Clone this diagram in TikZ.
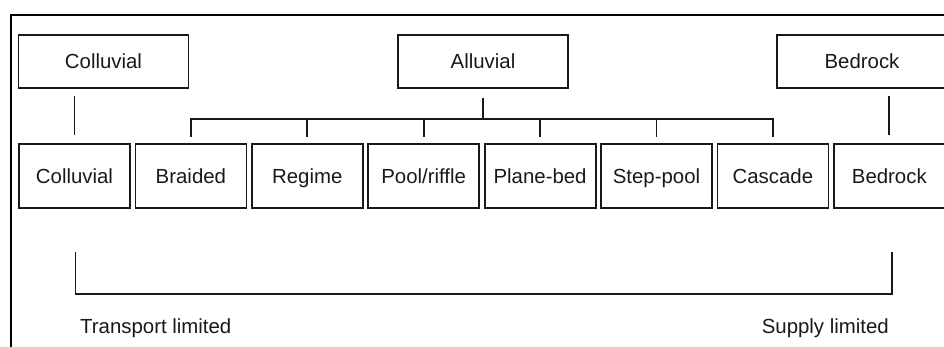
\documentclass[tikz,border=0pt]{standalone}
\usepackage{fontspec}
\setmainfont{Liberation Sans}
\usetikzlibrary{positioning}

\begin{document}
\begin{tikzpicture}[x=1pt,y=-1pt,
      kasten/.style={rectangle, draw=black!90, line width=1.8pt, inner sep=0pt, minimum width=111pt, minimum height=64pt, text height=14.6pt, text depth=0pt, text=black!90, font=\fontsize{20.4}{24}\selectfont},
      oben/.style={kasten, minimum width=170pt, minimum height=53pt},
      schrift/.style={inner sep=0pt, text=black!90, font=\fontsize{20.4}{24}\selectfont},
      linie/.style={draw=black!90, line width=1.8pt},
      node distance=116.4pt]

\useasboundingbox (0,0) rectangle (944,347);
\clip (0,0) rectangle (944,347);
\draw[line width=2.6pt] (11,15) rectangle (980,380);

\node[oben] (t1) at (103.5,61.5) {Colluvial};
\node[oben] (t2) at (483,61.5) {Alluvial};
\node[oben] (t3) at (862,61.5) {Bedrock};

\node[kasten] (v1) at (74.5,176) {Colluvial};
\node[kasten,right of=v1] (v2) {Braided};
\node[kasten,right of=v2] (v3) {Regime};
\node[kasten,right of=v3] (v4) {Pool/riffle};
\node[kasten,right of=v4] (v5) {Plane-bed};
\node[kasten,right of=v5] (v6) {Step-pool};
\node[kasten,right of=v6] (v7) {Cascade};
\node[kasten,right of=v7] (v8) {Bedrock};

\draw[linie, shorten <=7pt, shorten >=8pt] (t1.south -| v1) -- (v1.north);
\draw[linie, shorten <=7pt, shorten >=8pt] (t3.south -| v8) -- (v8.north);

% alluvial tree
\draw[linie, shorten <=9pt] (t2.south) -- ++(0,30) coordinate (ast);
\draw[linie, shorten <=6pt, shorten >=6pt] (v2.north) -- (ast -| v2) -- (ast -| v7) -- (v7.north);
\foreach \i in {3,...,6}
  \draw[linie, shorten >=6pt] (ast -| v\i) -- (v\i.north);

% transport / supply
\coordinate (ul) at ([xshift=1pt,yshift=-43pt]v1.south);
\coordinate (ur) at ([xshift=3pt,yshift=-43pt]v8.south);
\draw[linie] (ul) -- ++(0,42) -| (ur);

\node[schrift, anchor=west] (trans) at (80,328) {Transport limited};
\node[schrift, anchor=east] (supp) at (889,328) {Supply limited};

\end{tikzpicture}
\end{document}
